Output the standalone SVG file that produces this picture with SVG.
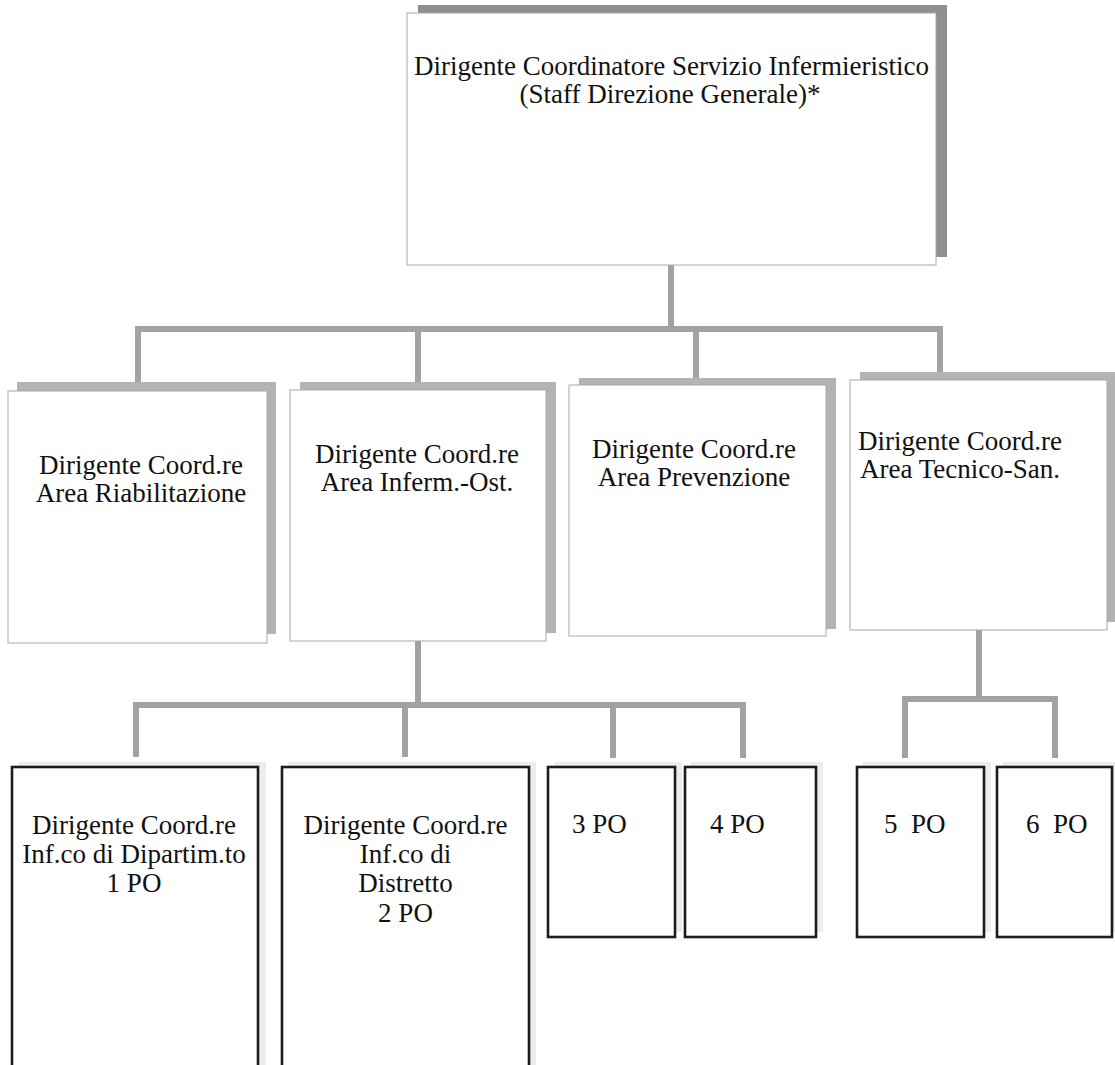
<svg xmlns="http://www.w3.org/2000/svg" width="1115" height="1065" viewBox="0 0 1115 1065">
<style>
  .bg { fill: #ffffff; }
  .shadowTop { fill: #8f8f8f; }
  .shadow { fill: #b3b3b3; }
  .faint { fill: #ececec; }
  .box { fill: #ffffff; stroke: #a8a8a8; stroke-width: 1; }
  .pobox { fill: #ffffff; stroke: #1c1c1c; stroke-width: 2.6; }
  .conn { fill: none; stroke: #a2a2a2; stroke-width: 6; stroke-linejoin: miter; stroke-linecap: butt; }
  text { font-family: "Liberation Serif", "Times New Roman", serif; font-size: 27px; fill: #111111; }
  .c { text-anchor: middle; }
</style>
<rect class="bg" x="0" y="0" width="1115" height="1065"/>

<g id="connectors">
  <path class="conn" d="M671 265 V329"/>
  <path class="conn" d="M138 383 V329 H940 V372"/>
  <path class="conn" d="M418 329 V383"/>
  <path class="conn" d="M696 329 V378"/>
  <path class="conn" d="M418 641 V705"/>
  <path class="conn" d="M136 757 V705 H743 V758"/>
  <path class="conn" d="M405 705 V757"/>
  <path class="conn" d="M613 705 V758"/>
  <path class="conn" d="M979 630 V699"/>
  <path class="conn" d="M905 758 V699 H1055 V758"/>
</g>

<g id="node-direttore">
  <rect class="shadowTop" x="418" y="5" width="529" height="252"/>
  <rect class="box" x="407" y="13" width="529" height="252"/>
  <text class="c" x="671.5" y="75">Dirigente Coordinatore Servizio Infermieristico</text>
  <text class="c" x="670" y="103">(Staff Direzione Generale)*</text>
</g>

<g id="node-riabilitazione">
  <rect class="shadow" x="17" y="382" width="259" height="252"/>
  <rect class="box" x="8" y="391" width="259" height="252"/>
  <text class="c" x="141" y="474">Dirigente Coord.re</text>
  <text class="c" x="141" y="502">Area Riabilitazione</text>
</g>

<g id="node-inferm-ost">
  <rect class="shadow" x="300" y="382" width="256" height="251"/>
  <rect class="box" x="290" y="390" width="256" height="251"/>
  <text class="c" x="417" y="463">Dirigente Coord.re</text>
  <text class="c" x="417" y="491">Area Inferm.-Ost.</text>
</g>

<g id="node-prevenzione">
  <rect class="shadow" x="579" y="378" width="257" height="251"/>
  <rect class="box" x="569" y="385" width="257" height="251"/>
  <text class="c" x="694" y="458">Dirigente Coord.re</text>
  <text class="c" x="694" y="486">Area Prevenzione</text>
</g>

<g id="node-tecnico-san">
  <rect class="shadow" x="860" y="372" width="257" height="250"/>
  <rect class="box" x="850" y="380" width="257" height="250"/>
  <text class="c" x="960" y="450">Dirigente Coord.re</text>
  <text class="c" x="960" y="478">Area Tecnico-San.</text>
</g>

<g id="node-dipartimento">
  <rect class="faint" x="18" y="762" width="248" height="310"/>
  <rect class="pobox" x="12" y="767" width="246" height="310"/>
  <text class="c" x="134" y="834">Dirigente Coord.re</text>
  <text class="c" x="134" y="863">Inf.co di Dipartim.to</text>
  <text class="c" x="134" y="892">1 PO</text>
</g>

<g id="node-distretto">
  <rect class="faint" x="288" y="762" width="248" height="310"/>
  <rect class="pobox" x="282" y="767" width="247" height="310"/>
  <text class="c" x="405.5" y="834">Dirigente Coord.re</text>
  <text class="c" x="405.5" y="863">Inf.co di</text>
  <text class="c" x="405.5" y="892">Distretto</text>
  <text class="c" x="405.5" y="922">2 PO</text>
</g>

<g id="node-3po">
  <rect class="faint" x="554" y="762" width="128" height="170"/>
  <rect class="pobox" x="548" y="767" width="127" height="170"/>
  <text x="572" y="833">3 PO</text>
</g>

<g id="node-4po">
  <rect class="faint" x="691" y="762" width="132" height="170"/>
  <rect class="pobox" x="685" y="767" width="131" height="170"/>
  <text x="710" y="833">4 PO</text>
</g>

<g id="node-5po">
  <rect class="faint" x="863" y="762" width="128" height="170"/>
  <rect class="pobox" x="857" y="767" width="127" height="170"/>
  <text x="884" y="833" xml:space="preserve">5  PO</text>
</g>

<g id="node-6po">
  <rect class="faint" x="1003" y="762" width="116" height="170"/>
  <rect class="pobox" x="997" y="767" width="115" height="170"/>
  <text x="1026" y="833" xml:space="preserve">6  PO</text>
</g>
</svg>
